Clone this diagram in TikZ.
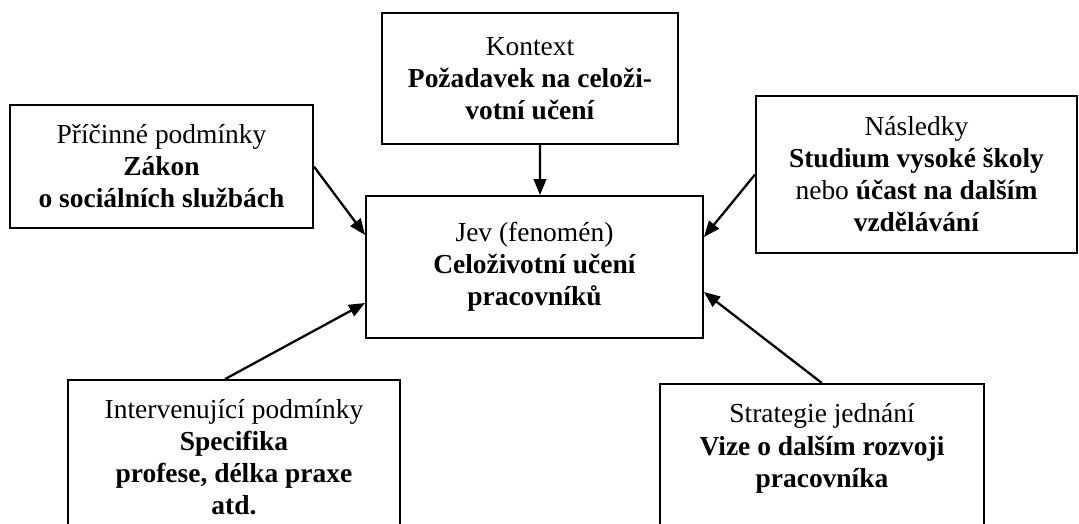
\documentclass[tikz,border=0pt]{standalone}
\usepackage{fontspec}
\setmainfont{Liberation Serif}
\usetikzlibrary{positioning,arrows.meta,calc}

\begin{document}
\begin{tikzpicture}[x=.437pt,y=-.437pt,
    every node/.style={font=\fontsize{12}{14}\selectfont},
    box/.style={draw,line width=.8pt,align=center,inner sep=0pt},
    arr/.style={-{Triangle[length=7pt,width=5.5pt]},line width=1pt}]
        \clip (0,0) rectangle (1079,524);
        \node[box,minimum width=147.3pt,minimum height=62.1pt] (jev) at (534.5,267) {Jev (fenomén)\\\textbf{Celoživotní učení}\\\textbf{pracovníků}};
        \node[box,minimum width=132.4pt,minimum height=53.8pt] (pric) at (161.5,166.5) {Příčinné podmínky\\\textbf{Zákon}\\\textbf{o sociálních službách}};
        \node[box,minimum width=129.4pt,minimum height=57.2pt] (kontext) at (530,78.5) {Kontext\\\textbf{Požadavek na celoži-}\\\textbf{votní učení}};
        \node[box,minimum width=140.3pt,minimum height=68.6pt] (nasl) at (916.5,174.5) {Následky\\\textbf{Studium vysoké školy}\\nebo \textbf{účast na dalším}\\\textbf{vzdělávání}};
        \node[box,minimum width=145.1pt,minimum height=67.7pt] (interv) at (234,457.5) {Intervenující podmínky\\\textbf{Specifika}\\\textbf{profese, délka praxe}\\\textbf{atd.}};
        \node[box,minimum width=141.6pt,minimum height=67.7pt] (strat) at (822,461.5) {Strategie jednání\\\textbf{Vize o dalším rozvoji}\\\textbf{pracovníka}\\~};
        \draw[arr] (pric.east) -- ($(jev.west)+(0,-32)$);
        \draw[arr] ($(kontext.south)+(10,0)$) -- ($(jev.north)+(5.5,0)$);
        \draw[arr] (nasl.west) -- ($(jev.east)+(0,-30)$);
        \draw[arr] ($(interv.north)+(-9,0)$) -- ($(jev.west)+(0,36)$);
        \draw[arr] (strat.north) -- ($(jev.east)+(0,25)$);
      \end{tikzpicture}
\end{document}
